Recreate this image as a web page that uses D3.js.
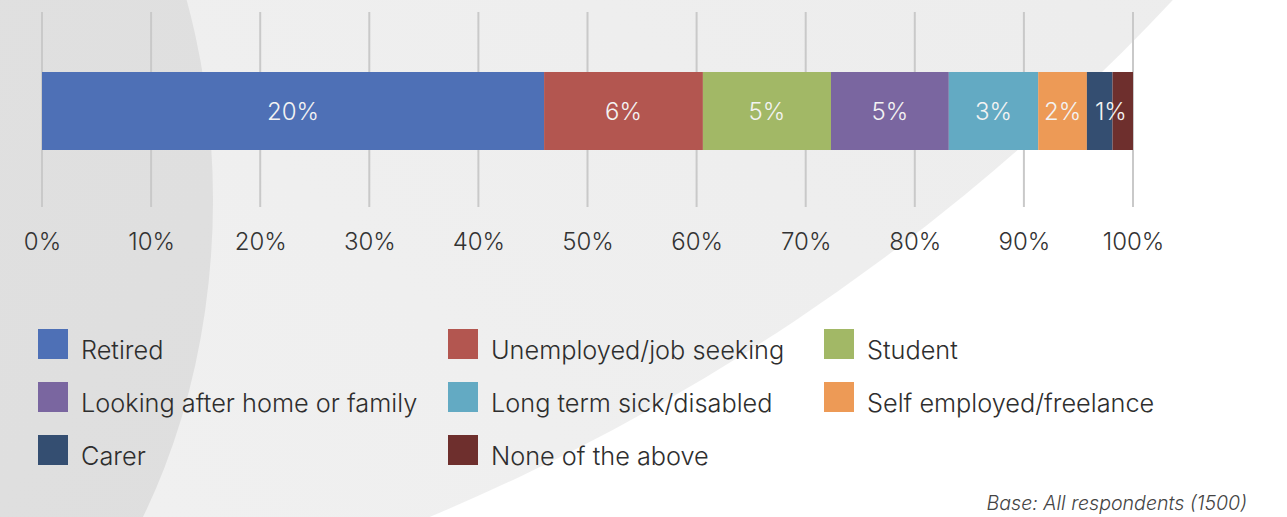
<!DOCTYPE html>
<html>
<head>
<meta charset="utf-8">
<script src="https://cdn.jsdelivr.net/npm/d3@7"></script>
<style>
  html, body { margin: 0; padding: 0; background: #ffffff; }
  svg { display: block; font-family: Inter, "Open Sans", sans-serif; }
</style>
</head>
<body>
<svg id="chart" width="1287" height="517"></svg>
<script>
// Status of respondents who are not in employment (% of all respondents)
const categories = [
  "Retired",
  "Unemployed/job seeking",
  "Student",
  "Looking after home or family",
  "Long term sick/disabled",
  "Self employed/freelance",
  "Carer",
  "None of the above"
];
const values = [19.6, 6.2, 5.0, 4.6, 3.49, 1.9, 1.0, 0.8];
const showLabel = [true, true, true, true, true, true, true, false];
const colors = ["#4e70b6", "#b35650", "#a2b866", "#7a66a0", "#63aac3", "#ed9a56", "#344e71", "#6e2f2d"];
const tickValues = [0, 0.1, 0.2, 0.3, 0.4, 0.5, 0.6, 0.7, 0.8, 0.9, 1.0];
const footnote = "Base: All respondents (1500)";

const W = 1287, H = 517;
const svg = d3.select("#chart");

// ---- background shapes ----
const defs = svg.append("defs");
const g1 = defs.append("linearGradient").attr("id", "midGrey")
  .attr("x1", "0").attr("y1", "1").attr("x2", "1").attr("y2", "0");
g1.append("stop").attr("offset", "0").attr("stop-color", "#f6f6f6");
g1.append("stop").attr("offset", "1").attr("stop-color", "#e4e4e4");
const g2 = defs.append("linearGradient").attr("id", "leftGrey")
  .attr("x1", "0").attr("y1", "0").attr("x2", "1").attr("y2", "1");
g2.append("stop").attr("offset", "0").attr("stop-color", "#e2e2e2");
g2.append("stop").attr("offset", "1").attr("stop-color", "#dedede");

svg.append("rect").attr("width", W).attr("height", H).attr("fill", "#ffffff");
svg.append("circle").attr("cx", -406).attr("cy", -1477).attr("r", 2162)
  .attr("fill", "url(#midGrey)");
svg.append("ellipse").attr("cx", -200).attr("cy", 200).attr("rx", 413).attr("ry", 569)
  .attr("fill", "url(#leftGrey)");

// ---- scales ----
const x = d3.scaleLinear().domain([0, 1]).range([42, 1133]);
const barTop = 72, barH = 78;

// stack the single row and normalise to 100%
const row = {};
categories.forEach((c, i) => row[c] = values[i]);
const stack = d3.stack().keys(categories).offset(d3.stackOffsetExpand);
const series = stack([row]);

// ---- grid lines ----
const grid = svg.append("g");
grid.selectAll("line").data(tickValues).join("line")
  .attr("x1", d => x(d)).attr("x2", d => x(d))
  .attr("y1", 12).attr("y2", 207)
  .attr("stroke", "#c9c9c9").attr("stroke-width", 2);

// ---- axis labels ----
const axis = d3.axisBottom(x).tickValues(tickValues)
  .tickFormat(d3.format(".0%")).tickSize(0).tickPadding(0);
const axG = svg.append("g").attr("transform", "translate(0,232)").call(axis);
axG.select(".domain").remove();
axG.selectAll("text")
  .attr("font-family", "Inter, sans-serif")
  .attr("font-size", 24).attr("font-weight", 300)
  .attr("fill", "#333333").attr("dy", "0.75em");

// ---- bar segments ----
const segs = svg.append("g");
segs.selectAll("rect").data(series).join("rect")
  .attr("x", s => x(s[0][0]))
  .attr("width", s => x(s[0][1]) - x(s[0][0]))
  .attr("y", barTop).attr("height", barH)
  .attr("fill", (s, i) => colors[i]);

const fmt = v => Math.round(v) + "%";
const labels = svg.append("g")
  .attr("font-family", "Inter, sans-serif")
  .attr("font-size", 24).attr("font-weight", 300)
  .attr("fill", "#f3f3f3");
series.forEach((s, i) => {
  if (!showLabel[i]) return;
  const x0 = x(s[0][0]), x1 = x(s[0][1]);
  const t = labels.append("text").text(fmt(values[i])).attr("y", barTop + 48);
  const tw = t.node().getComputedTextLength();
  if (tw + 4 > x1 - x0) {
    t.attr("x", x0 + 8).attr("text-anchor", "start");
  } else {
    t.attr("x", (x0 + x1) / 2).attr("text-anchor", "middle");
  }
});

// ---- legend ----
const legendCols = [38, 448, 824];
const legendRows = [329, 382, 435];
const legend = svg.append("g");
categories.forEach((c, i) => {
  const lx = legendCols[i % 3], ly = legendRows[Math.floor(i / 3)];
  const item = legend.append("g").attr("transform", `translate(${lx},${ly})`);
  item.append("rect").attr("width", 30).attr("height", 30).attr("fill", colors[i]);
  item.append("text").attr("x", 43).attr("y", 30)
    .attr("font-family", "Inter, sans-serif")
    .attr("font-size", 25.3).attr("font-weight", 300)
    .attr("fill", "#2e2e2e").text(c);
});

// ---- footnote ----
svg.append("text").attr("x", 1247).attr("y", 510)
  .attr("text-anchor", "end")
  .attr("font-family", "Inter, sans-serif")
  .attr("font-size", 19.6).attr("font-style", "italic").attr("font-weight", 300)
  .attr("fill", "#444444").text(footnote);
</script>
</body>
</html>
